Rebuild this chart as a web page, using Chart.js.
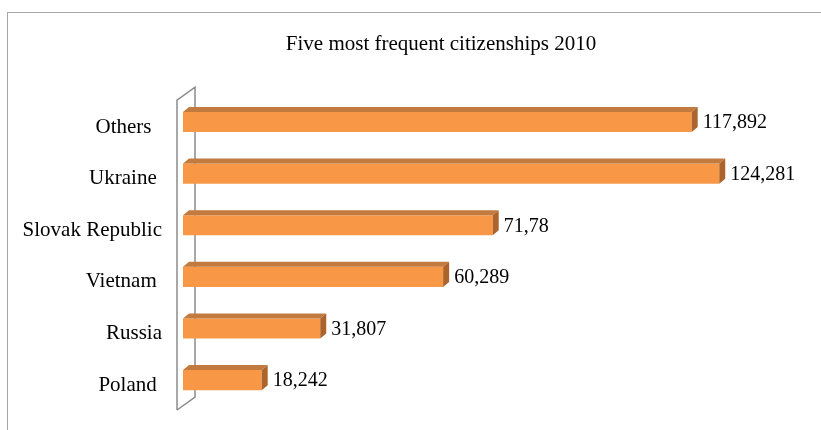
<!DOCTYPE html>
<html>
<head>
<meta charset="utf-8">
<script src="https://cdn.jsdelivr.net/npm/chart.js@4"></script>
<style>
  html, body { margin: 0; padding: 0; background: #fff; overflow: hidden; }
  #wrap { position: absolute; left: 0; top: 0; width: 882px; height: 430px; }
  #frame { position: absolute; left: 7px; top: 12px; width: 900px; height: 430px;
           border-left: 1.5px solid #a6a6a6; border-top: 1.5px solid #a6a6a6; }
</style>
</head>
<body>
<div id="frame"></div>
<div id="wrap"><canvas id="chart" width="882" height="430"></canvas></div>
<script>
// data (trailing spaces as in the original labels)
const categories = ['Others  ', 'Ukraine ', 'Slovak Republic', 'Vietnam ', 'Russia', 'Poland '];
const citizens = [117892, 124281, 71780, 60289, 31807, 18242];
const valueLabels = ['117,892', '124,281', '71,78', '60,289', '31,807', '18,242'];

const DEPTH_X = 6;
const DEPTH_Y = 5;

// fake 3d: wall behind the bars, top and side faces, value labels
const threeD = {
  id: 'threeD',
  beforeDatasetsDraw(chart) {
    const ctx = chart.ctx;
    const area = chart.chartArea;
    const x0 = chart.scales.x.getPixelForValue(0);
    const fx = x0 - 6, bx = x0 + 12;
    const top = area.top + 4, bottom = area.bottom + 4;
    ctx.save();
    ctx.strokeStyle = '#8c8c8c';
    ctx.lineWidth = 1.5;
    ctx.beginPath();
    ctx.moveTo(fx, bottom);
    ctx.lineTo(fx, top);
    ctx.lineTo(bx, top - 13);
    ctx.lineTo(bx, bottom - 13);
    ctx.lineTo(fx, bottom);
    ctx.stroke();
    ctx.restore();
  },
  afterDatasetsDraw(chart) {
    const ctx = chart.ctx;
    const meta = chart.getDatasetMeta(0);
    ctx.save();
    meta.data.forEach((bar, i) => {
      const left = bar.base, right = bar.x;
      const t = bar.y - bar.height / 2, b = bar.y + bar.height / 2;
      // top face
      ctx.fillStyle = '#c27a3e';
      ctx.beginPath();
      ctx.moveTo(left, t);
      ctx.lineTo(left + DEPTH_X, t - DEPTH_Y);
      ctx.lineTo(right + DEPTH_X, t - DEPTH_Y);
      ctx.lineTo(right, t);
      ctx.closePath();
      ctx.fill();
      // side face
      ctx.fillStyle = '#ad642c';
      ctx.beginPath();
      ctx.moveTo(right, t);
      ctx.lineTo(right + DEPTH_X, t - DEPTH_Y);
      ctx.lineTo(right + DEPTH_X, b - DEPTH_Y);
      ctx.lineTo(right, b);
      ctx.closePath();
      ctx.fill();
      // value label
      ctx.fillStyle = '#000';
      ctx.font = '20px "Liberation Serif", serif';
      ctx.textAlign = 'left';
      ctx.textBaseline = 'middle';
      ctx.fillText(valueLabels[i], right + DEPTH_X + 5, bar.y + 1);
    });
    ctx.restore();
  }
};

new Chart(document.getElementById('chart'), {
  type: 'bar',
  data: {
    labels: categories,
    datasets: [{
      data: citizens,
      backgroundColor: '#f89847',
      borderWidth: 0,
      categoryPercentage: 1,
      barPercentage: 0.39
    }]
  },
  options: {
    indexAxis: 'y',
    responsive: false,
    animation: false,
    layout: { padding: { left: 0, right: 0, top: 0, bottom: 24 } },
    plugins: {
      legend: { display: false },
      tooltip: { enabled: false },
      title: {
        display: true,
        text: 'Five most frequent citizenships 2010',
        color: '#000',
        font: { family: '"Liberation Serif", serif', size: 21, weight: 'normal' },
        padding: { top: 32, bottom: 39 }
      }
    },
    scales: {
      x: {
        display: false,
        min: 0,
        max: 162000
      },
      y: {
        grid: { display: false },
        border: { display: false },
        ticks: {
          color: '#000',
          font: { family: '"Liberation Serif", serif', size: 21 },
          padding: 13,
          labelOffset: 5
        },
        afterFit(scale) {
          scale.width = 183;
          scale.paddingTop = 0;
          scale.paddingBottom = 0;
        }
      }
    }
  },
  plugins: [threeD]
});
</script>
</body>
</html>
